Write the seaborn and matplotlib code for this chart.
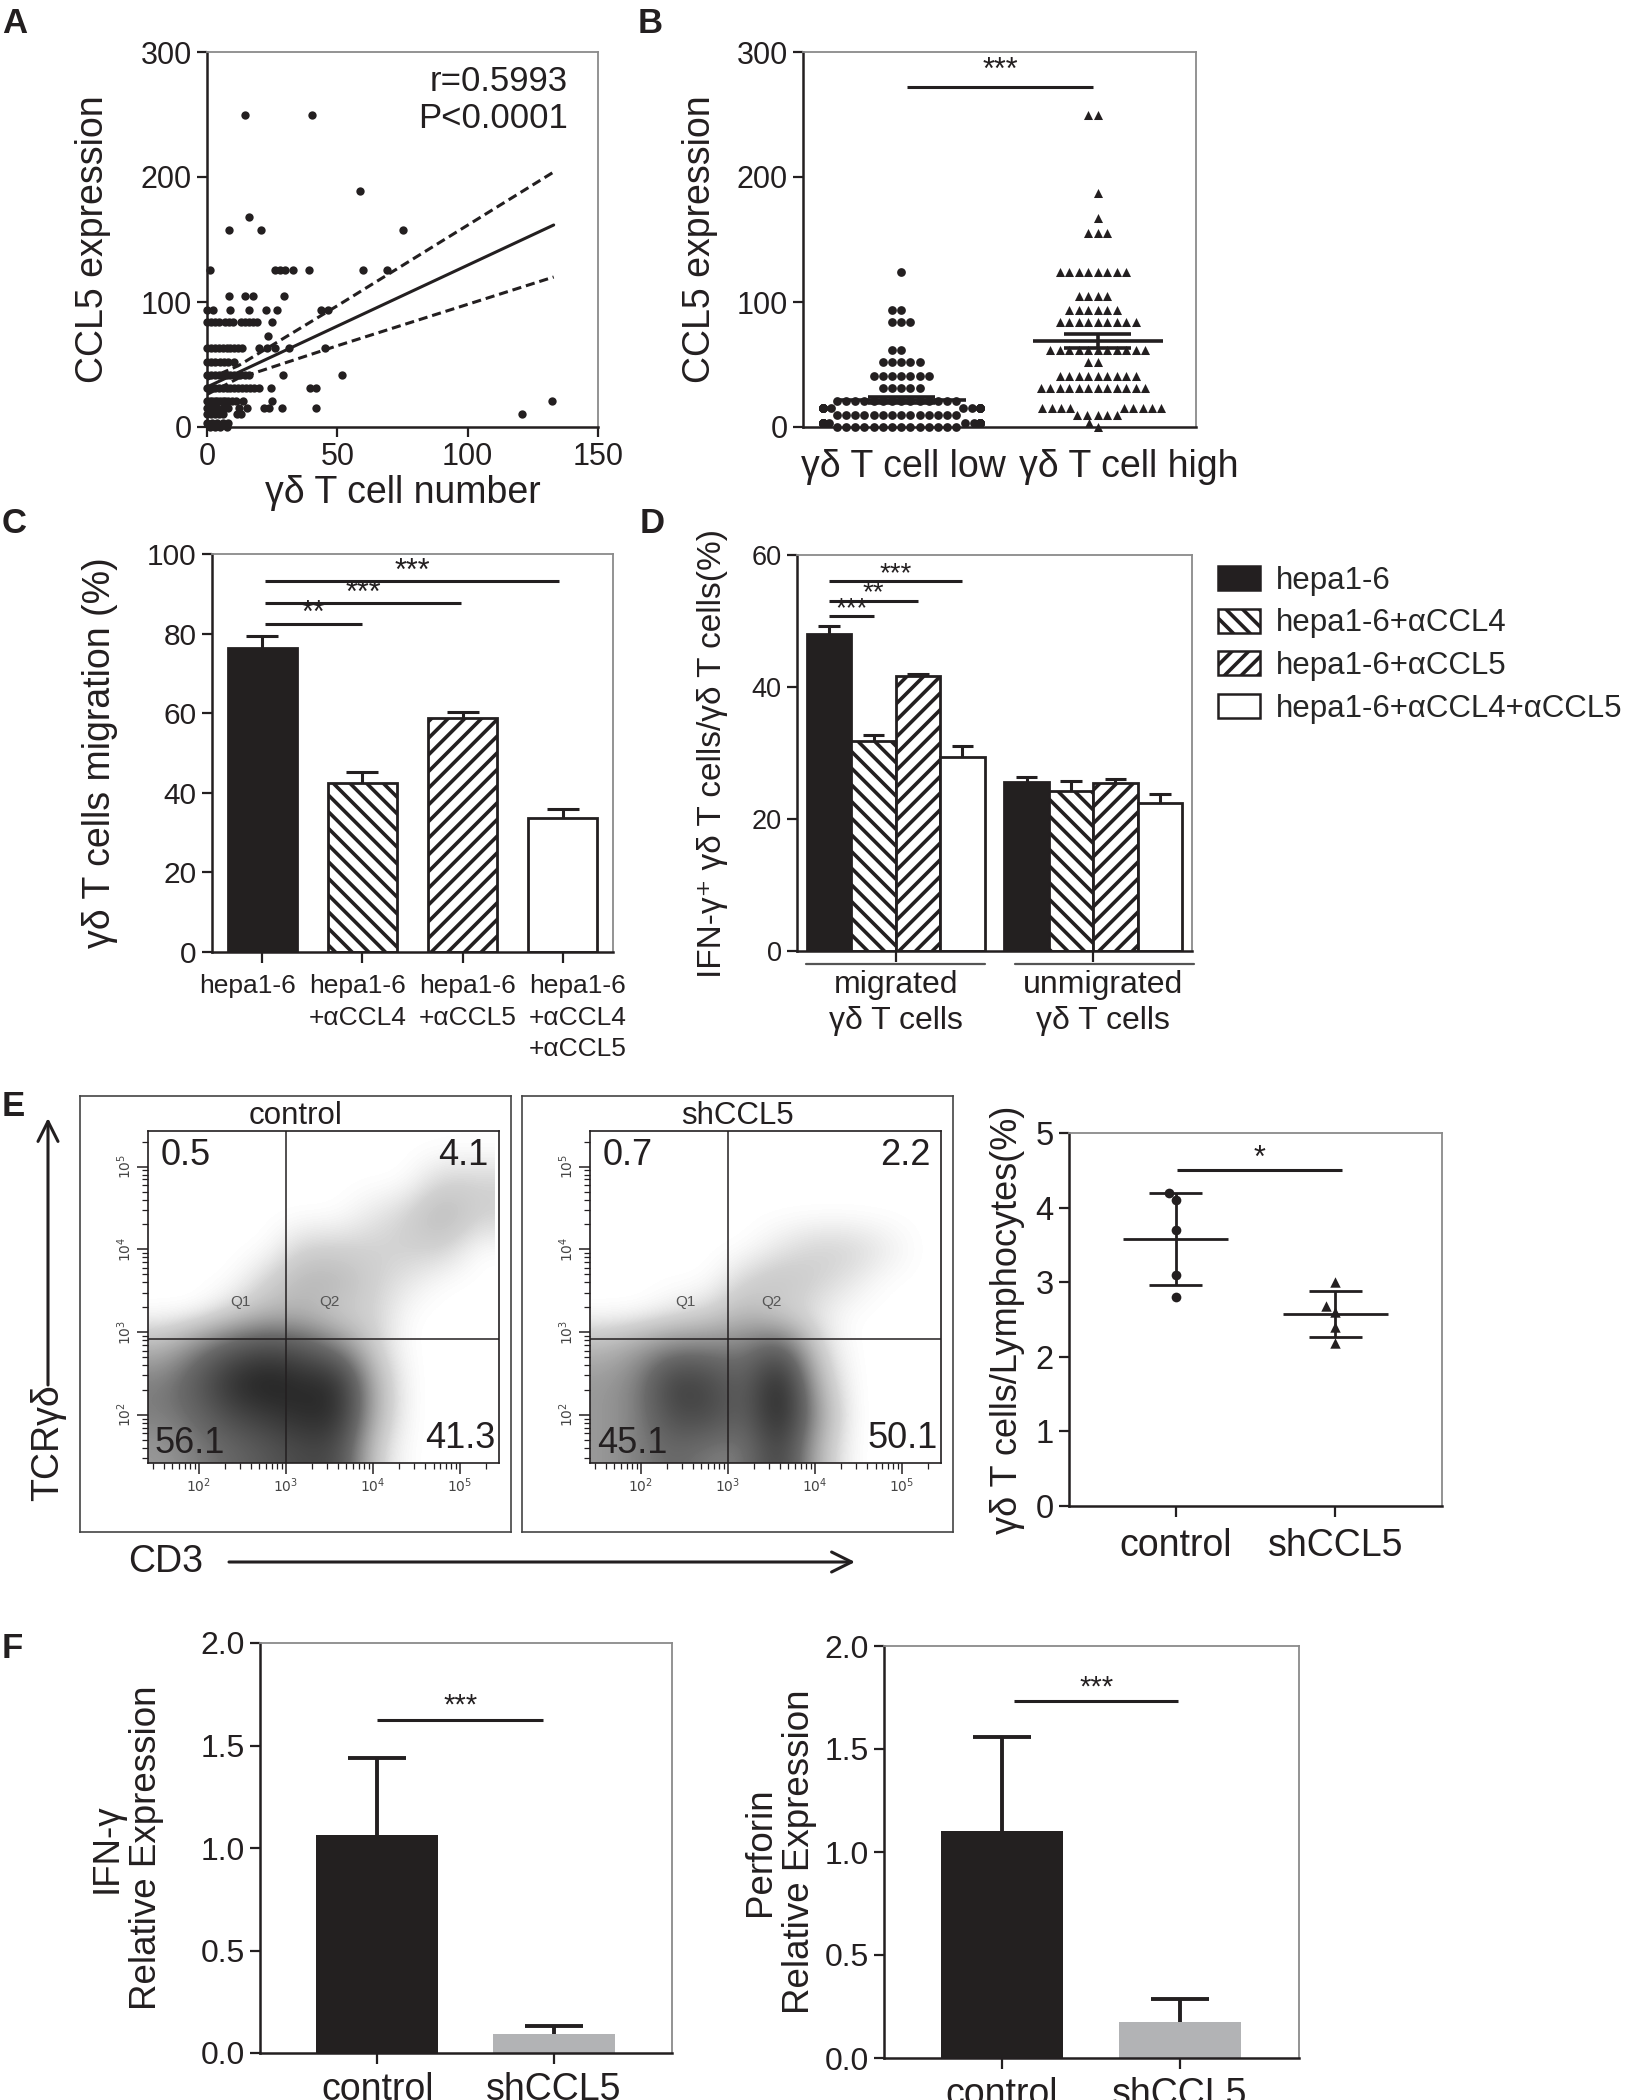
import numpy as np
import pandas as pd
import matplotlib
matplotlib.use("Agg")
import matplotlib.pyplot as plt
import matplotlib.patches as mpatches
from matplotlib.colors import LinearSegmentedColormap
import seaborn as sns

# ---------------- data ----------------

# A: gamma-delta T cell number vs CCL5 expression (one entry per sample)
a_row_ccl5 = [250, 189, 168, 158, 126, 105, 94, 84, 73, 63, 52, 42, 31, 21, 15.5, 10.7, 3, 0]
a_row_sizes = [2, 1, 1, 3, 8, 4, 8, 13, 1, 15, 7, 13, 17, 14, 11, 8, 5, 4]
a_cells = [14.5, 40.4,
           58.6,
           16,
           8.4, 20.9, 75.3,
           1, 26, 28, 30, 33, 39, 60, 69,
           8.4, 14.5, 17.8, 29.7,
           0, 2.3, 8.8, 16, 22.5, 27, 43.9, 46.4,
           0, 1.5, 3, 4.5, 7, 8.5, 10, 13, 14.5, 16, 17.5, 19, 25,
           23.3,
           0, 1.5, 3, 4.5, 6, 7.5, 9, 10.5, 12, 13.5, 20, 23, 26, 31.5, 45.4,
           0, 1.5, 3, 5, 6.5, 8, 10.5,
           0, 1.5, 3, 4.5, 6, 7.5, 9, 10.5, 12.5, 14.5, 16, 29, 51.8,
           0, 1.5, 3, 4.5, 6, 7.5, 9, 10.5, 12, 13.5, 15, 16.5, 18, 20, 24.4, 39.6, 41.9,
           0, 1, 2, 3, 4, 5, 6, 7, 8, 9.5, 11, 13.7, 24.8, 132.5,
           0, 2, 4, 6, 8, 12.2, 15.2, 22, 23.6, 28.9, 41.9,
           0, 1.5, 3, 4.5, 6, 11.4, 12.9, 121,
           0, 2, 4, 6, 8,
           1, 3, 5, 7.5]
a_ccl5 = np.repeat(a_row_ccl5, a_row_sizes)
fit_x = [0, 133]
fit_y = [32, 161.6]
ci_x = [0, 12, 50, 133]
ci_upper = [38, 49, 97, 204]
ci_lower = [26, 39, 65, 120]

# B: CCL5 expression, gamma-delta T cell low / high groups
b_groups = ["γδ T cell low", "γδ T cell high"]
low_levels = [124, 94, 84, 62, 52, 41, 31, 21, 15, 10, 3, 0]
low_counts = [1, 2, 3, 2, 5, 7, 5, 14, 14, 14, 16, 14]
high_levels = [250, 187, 167, 155, 124, 105, 94, 84, 62, 52, 41, 31, 15, 10, 3, 0]
high_counts = [2, 1, 1, 3, 8, 4, 6, 9, 11, 2, 9, 12, 9, 5, 1, 1]

# C: migration (%)
c_labels = ["hepa1-6", "hepa1-6\n+αCCL4", "hepa1-6\n+αCCL5", "hepa1-6\n+αCCL4\n+αCCL5"]
c_mean = [76.5, 42.5, 58.8, 33.7]
c_err = [2.8, 2.8, 1.5, 2.3]

# D: IFN-g+ gamma-delta T cells (%)
d_groups = ["migrated\nγδ T cells", "unmigrated\nγδ T cells"]
d_treat = ["hepa1-6", "hepa1-6+αCCL4", "hepa1-6+αCCL5", "hepa1-6+αCCL4+αCCL5"]
d_mean = [48.0, 31.8, 41.7, 29.4, 25.6, 24.2, 25.5, 22.5]
d_err = [1.2, 0.9, 0.3, 1.6, 0.7, 1.6, 0.6, 1.3]

# E: flow cytometry (CD3 vs TCRgd), coarse event density on 0.4-decade bins, rows bottom->top
flow_ctrl = [[3, 4, 5, 6, 7, 7, 1, 0, 0, 0],
             [4, 5, 7, 8, 9, 9, 2, 0, 0, 0],
             [4, 6, 9, 10, 9, 9, 2, 0, 0, 0],
             [2, 4, 6, 7, 6, 4, 1, 0, 0, 0],
             [0, 0, 1, 2, 2, 1, 1, 0, 0, 0],
             [0, 0, 0, 1, 2, 2, 1, 0.5, 0, 0],
             [0, 0, 0, 0, 1, 1, 1, 1, 1, 0],
             [0, 0, 0, 0, 0, 0, 0.5, 1, 2, 1],
             [0, 0, 0, 0, 0, 0, 0, 0, 1, 1],
             [0, 0, 0, 0, 0, 0, 0, 0, 0, 0]]
flow_sh = [[3, 4, 5, 4, 4, 8, 2, 0, 0, 0],
           [3, 4, 7, 7, 5, 10, 3, 0, 0, 0],
           [3, 4, 8, 7, 5, 10, 2, 0, 0, 0],
           [2, 3, 4, 4, 4, 6, 1, 0, 0, 0],
           [0, 0, 0.5, 1, 2, 1, 0.5, 0, 0, 0],
           [0, 0, 0, 0, 1, 1.5, 1, 0.5, 0, 0],
           [0, 0, 0, 0, 0, 0.5, 1, 1, 0.5, 0],
           [0, 0, 0, 0, 0, 0, 0, 0, 0, 0],
           [0, 0, 0, 0, 0, 0, 0, 0, 0, 0],
           [0, 0, 0, 0, 0, 0, 0, 0, 0, 0]]
quad_ctrl = ["0.5", "4.1", "56.1", "41.3"]
quad_sh = ["0.7", "2.2", "45.1", "50.1"]

# E right: gamma-delta T cells / lymphocytes (%)
e_groups = ["control", "shCCL5"]
e_ctrl = [4.2, 4.1, 3.7, 3.1, 2.8]
e_sh = [3.0, 2.68, 2.6, 2.4, 2.18]

# F: relative expression
f_groups = ["control", "shCCL5"]
f_ifng = [1.065, 0.094]
f_ifng_err = [0.375, 0.036]
f_perf = [1.10, 0.175]
f_perf_err = [0.458, 0.11]

# ---------------- style ----------------
DARK = "#231f20"
FRAME = "#8a8a8a"
GREYBAR = "#b2b3b5"

sns.set_theme(style="ticks")
plt.rcParams["font.family"] = ["Liberation Sans", "DejaVu Sans"]
plt.rcParams["hatch.linewidth"] = 2.6
plt.rcParams["hatch.color"] = DARK

W, H = 1633, 2100
fig = plt.figure(figsize=(W / 100, H / 100), dpi=100)


def add_ax(l, t, r, b):
    return fig.add_axes([l / W, 1 - b / H, (r - l) / W, (b - t) / H])


def style_frame(ax, labelsize):
    for side in ("left", "bottom"):
        ax.spines[side].set_color(DARK)
        ax.spines[side].set_linewidth(1.8)
    for side in ("top", "right"):
        ax.spines[side].set_visible(True)
        ax.spines[side].set_color(FRAME)
        ax.spines[side].set_linewidth(1.3)
    ax.tick_params(direction="out", length=7, width=1.6, color=DARK,
                   labelsize=labelsize, labelcolor=DARK, pad=4)


def ylabel(ax, text, size, xfrac, **kw):
    ax.set_ylabel(text, fontsize=size, color=DARK, va="center", **kw)
    ax.yaxis.set_label_coords(xfrac, 0.5)


def letter(x, y, s):
    fig.text(x / W, 1 - y / H, s, fontsize=25, fontweight="bold", va="top", color=DARK)


def sig(ax, x0, x1, y, stars, size, dy):
    ax.plot([x0, x1], [y, y], color=DARK, lw=2.2, solid_capstyle="butt")
    ax.text((x0 + x1) / 2, y + dy, stars, ha="center", va="bottom", fontsize=size, color=DARK)


def upper_err(ax, xs, tops, errs, half, lw):
    # GraphPad style: only the upper whisker with its cap
    for x, t, e in zip(xs, tops, errs):
        ax.plot([x, x], [t, t + e], color=DARK, lw=lw, zorder=1, solid_capstyle="butt")
        ax.plot([x - half, x + half], [t + e, t + e], color=DARK, lw=lw, zorder=1,
                solid_capstyle="butt")


# ---------------- A ----------------
axA = add_ax(207, 52, 598, 427)
sns.scatterplot(x=a_cells, y=a_ccl5, color=DARK, s=36, linewidth=0, ax=axA,
                clip_on=False, zorder=3)
axA.plot(fit_x, fit_y, color=DARK, lw=2.2)
axA.plot(ci_x, ci_upper, color=DARK, lw=2.2, ls=(0, (3, 1.6)))
axA.plot(ci_x, ci_lower, color=DARK, lw=2.2, ls=(0, (3, 1.6)))
axA.set(xlim=(0, 150), ylim=(0, 300), xticks=[0, 50, 100, 150], yticks=[0, 100, 200, 300])
style_frame(axA, 22)
axA.set_xlabel("γδ T cell number", fontsize=27, color=DARK, va="center")
axA.xaxis.set_label_coords(0.5, -0.176)
ylabel(axA, "CCL5 expression", 27, -0.292)
axA.text(0.923, 0.965, "r=0.5993\nP<0.0001", transform=axA.transAxes, ha="right", va="top",
         fontsize=25, linespacing=1.15, color=DARK)
letter(2, 7, "A")

# ---------------- B ----------------
axB = add_ax(803, 52, 1196, 427)
low_vals = np.repeat(low_levels, low_counts)
high_vals = np.repeat(high_levels, high_counts)
b_df = pd.DataFrame({"group": [b_groups[0]] * len(low_vals) + [b_groups[1]] * len(high_vals),
                     "ccl5": np.concatenate([low_vals, high_vals])})
sns.swarmplot(data=b_df[b_df.group == b_groups[0]], x="group", y="ccl5", order=b_groups,
              color=DARK, size=6.3, marker="o", ax=axB, clip_on=False)
sns.swarmplot(data=b_df[b_df.group == b_groups[1]], x="group", y="ccl5", order=b_groups,
              color=DARK, size=6.5, marker="^", ax=axB, clip_on=False)
b_stats = b_df.groupby("group")["ccl5"].agg(["mean", "sem"]).reindex(b_groups)
for i, (m, se) in enumerate(zip(b_stats["mean"], b_stats["sem"])):
    axB.hlines(m, i - 0.33, i + 0.33, color=DARK, lw=2.6, zorder=4)
    axB.hlines([m - se, m + se], i - 0.17, i + 0.17, color=DARK, lw=2.6, zorder=4)
    axB.vlines(i, m - se, m + se, color=DARK, lw=2.6, zorder=4)
axB.set(xlim=(-0.5, 1.5), ylim=(0, 300), yticks=[0, 100, 200, 300], xlabel="")
style_frame(axB, 22)
axB.tick_params(axis="x", length=0, labelbottom=False)
for xpos, lab in zip([0.01, 1.16], b_groups):
    axB.text(xpos, -0.107, lab, transform=axB.get_xaxis_transform(), ha="center", va="center",
             fontsize=27, color=DARK)
ylabel(axB, "CCL5 expression", 27, -0.262)
sig(axB, 0.03, 0.976, 272, "***", 22, 1)
letter(638, 7, "B")

# ---------------- C ----------------
c_colors = [DARK, "white", "white", "white"]
c_hatches = ["", "\\\\", "//", ""]
axC = add_ax(212, 554, 613, 952)
c_df = pd.DataFrame({"cond": c_labels, "pct": c_mean})
sns.barplot(data=c_df, x="cond", y="pct", hue="cond", palette=c_colors, edgecolor=DARK,
            linewidth=2.0, width=0.69, ax=axC, legend=False)
for patch, h in zip(axC.patches, c_hatches):
    patch.set_hatch(h)
upper_err(axC, range(len(c_mean)), c_mean, c_err, 0.16, 2.2)
axC.set(xlim=(-0.5, 3.5), ylim=(0, 100), yticks=[0, 20, 40, 60, 80, 100], xlabel="")
style_frame(axC, 21.5)
axC.tick_params(axis="x", length=8, labelbottom=False)
# category labels are spread slightly wider than the bars, as in the source figure
for i, lab in enumerate(c_labels):
    axC.text(1.5 + (i - 1.5) * 1.1, -0.056, lab, transform=axC.get_xaxis_transform(),
             ha="center", va="top", fontsize=19, linespacing=1.38, color=DARK)
ylabel(axC, "γδ T cells migration (%)", 27, -0.279)
sig(axC, 0.03, 1.0, 82.4, "**", 22, -1.3)
sig(axC, 0.03, 1.98, 87.6, "***", 22, -1.3)
sig(axC, 0.03, 2.96, 93.1, "***", 22, -1.3)
letter(2, 507, "C")

# ---------------- D ----------------
axD = add_ax(797, 555, 1192, 951)
d_df = pd.DataFrame({"group": np.repeat(d_groups, len(d_treat)),
                     "treat": d_treat * len(d_groups), "pct": d_mean})
sns.barplot(data=d_df, x="group", y="pct", hue="treat", hue_order=d_treat, palette=c_colors,
            edgecolor=DARK, linewidth=2.0, width=0.9, gap=0, ax=axD, legend=False)
bar_x = {}
for k, cont in enumerate(axD.containers):
    for g, bar in enumerate(cont):
        bar.set_hatch(c_hatches[k])
        bar_x[(g, k)] = bar.get_x() + bar.get_width() / 2
d_x = [bar_x[(g, k)] for g in range(len(d_groups)) for k in range(len(d_treat))]
upper_err(axD, d_x, d_mean, d_err, 0.055, 2.2)
axD.set(xlim=(-0.5, 1.5), ylim=(0, 60), yticks=[0, 20, 40, 60], xlabel="")
style_frame(axD, 19.5)
axD.tick_params(axis="x", length=8, labelbottom=False)
for g, (x0, x1) in enumerate([(-0.455, 0.452), (0.604, 1.51)]):
    axD.plot([x0, x1], [-1.96, -1.96], color="#555555", lw=1.6, clip_on=False)
for xpos, lab in zip([0.0, 1.05], d_groups):
    axD.text(xpos, -0.131, lab, transform=axD.get_xaxis_transform(), ha="center",
             va="center", fontsize=23, linespacing=1.25, color=DARK)
ylabel(axD, "IFN-γ⁺ γδ T cells/γδ T cells(%)", 24, -0.215)
sig(axD, bar_x[(0, 0)], bar_x[(0, 1)], 50.7, "***", 20, -0.9)
sig(axD, bar_x[(0, 0)], bar_x[(0, 2)], 53.1, "**", 20, -0.9)
sig(axD, bar_x[(0, 0)], bar_x[(0, 3)], 56.0, "***", 20, -0.9)
d_handles = [mpatches.Patch(facecolor=c, edgecolor=DARK, hatch=h, linewidth=1.8, label=l)
             for c, h, l in zip(c_colors, c_hatches, d_treat)]
fig.legend(handles=d_handles, loc="upper left", bbox_to_anchor=(1218 / W, 1 - 566 / H),
           frameon=False, fontsize=22.5, handlelength=1.35, handleheight=0.8,
           handletextpad=0.5, labelspacing=0.4, borderaxespad=0, borderpad=0)
letter(640, 507, "D")

# ---------------- E: flow plots ----------------
flow_cmap = LinearSegmentedColormap.from_list(
    "flow", [(0, "#ffffff"), (0.09, "#d2d2d2"), (0.45, "#6a6a6a"), (1, "#141414")])
dec_major = [2, 3, 4, 5]
dec_minor = [np.log10(m * 10.0 ** d) for d in range(1, 6) for m in range(2, 10)]


def flow_panel(box, inner, title, density, quads, q1x, q2x):
    outer = add_ax(*box)
    outer.set_xticks([])
    outer.set_yticks([])
    for sp in outer.spines.values():
        sp.set_visible(True)
        sp.set_color("#444444")
        sp.set_linewidth(1.2)
    outer.text(0.5, 0.954, title, transform=outer.transAxes, ha="center", va="center",
               fontsize=22.5, color=DARK)
    ax = add_ax(*inner)
    ax.imshow(np.array(density), origin="lower", extent=(1.4, 5.4, 1.4, 5.4), cmap=flow_cmap,
              vmin=0, vmax=10.5, interpolation="bicubic", aspect="auto")
    ax.axvline(3.0, color=DARK, lw=1.1)
    ax.axhline(2.92, color=DARK, lw=1.1)
    ax.set(xlim=(1.42, 5.45), ylim=(1.42, 5.43))
    for sp in ax.spines.values():
        sp.set_visible(True)
        sp.set_color(DARK)
        sp.set_linewidth(1.2)
    ax.set_xticks(dec_major)
    ax.set_yticks(dec_major)
    ax.set_xticks([v for v in dec_minor if 1.42 < v < 5.45], minor=True)
    ax.set_yticks([v for v in dec_minor if 1.42 < v < 5.43], minor=True)
    ax.set_xticklabels([f"$10^{{{d}}}$" for d in dec_major])
    ax.set_yticklabels([f"$10^{{{d}}}$" for d in dec_major], rotation=90, va="center")
    ax.tick_params(which="major", direction="out", length=8, width=1.1, color=DARK,
                   labelsize=10, labelcolor="#444444", pad=2)
    ax.tick_params(which="minor", direction="out", length=4, width=0.9, color=DARK)
    ax.text(1.56, 5.34, quads[0], ha="left", va="top", fontsize=26, color=DARK)
    ax.text(5.33, 5.34, quads[1], ha="right", va="top", fontsize=26, color=DARK)
    ax.text(1.5, 1.45, quads[2], ha="left", va="bottom", fontsize=26, color=DARK)
    ax.text(5.41, 1.5, quads[3], ha="right", va="bottom", fontsize=26, color=DARK)
    ax.text(q1x, 3.36, "Q1", ha="center", va="center", fontsize=11, color="#555555")
    ax.text(q2x, 3.36, "Q2", ha="center", va="center", fontsize=11, color="#555555")
    return ax


flow_panel((80, 1096, 511, 1532), (148, 1131, 499, 1463), "control", flow_ctrl, quad_ctrl, 2.48, 3.5)
flow_panel((522, 1096, 953, 1532), (590, 1131, 941, 1463), "shCCL5", flow_sh, quad_sh, 2.52, 3.5)

fig.text(48 / W, 1 - 1443 / H, "TCRγδ", rotation=90, ha="center", va="center", fontsize=27, color=DARK)
fig.text(166 / W, 1 - 1562 / H, "CD3", ha="center", va="center", fontsize=27, color=DARK)
arrow = dict(arrowstyle="->,head_length=0.6,head_width=0.3", color=DARK, lw=2.2,
             mutation_scale=24, shrinkA=0, shrinkB=0)
fig.add_artist(mpatches.FancyArrowPatch((48 / W, 1 - 1385 / H), (48 / W, 1 - 1118 / H),
                                        transform=fig.transFigure, **arrow))
fig.add_artist(mpatches.FancyArrowPatch((229 / W, 1 - 1562 / H), (855 / W, 1 - 1562 / H),
                                        transform=fig.transFigure, **arrow))
letter(2, 1090, "E")

# ---------------- E right ----------------
axE = add_ax(1069, 1133, 1442, 1506)
e_df = pd.DataFrame({"group": [e_groups[0]] * len(e_ctrl) + [e_groups[1]] * len(e_sh),
                     "pct": e_ctrl + e_sh})
sns.swarmplot(data=e_df[e_df.group == e_groups[0]], x="group", y="pct", order=e_groups,
              color=DARK, size=7, marker="o", ax=axE)
sns.swarmplot(data=e_df[e_df.group == e_groups[1]], x="group", y="pct", order=e_groups,
              color=DARK, size=7.5, marker="^", ax=axE)
e_stats = e_df.groupby("group")["pct"].agg(["mean", "std"]).reindex(e_groups)
for i, (m, sd) in enumerate(zip(e_stats["mean"], e_stats["std"])):
    axE.hlines(m, i - 0.33, i + 0.33, color=DARK, lw=2.0, zorder=4)
    axE.hlines([m - sd, m + sd], i - 0.165, i + 0.165, color=DARK, lw=2.0, zorder=4)
    axE.vlines(i, m - sd, m + sd, color=DARK, lw=2.0, zorder=4)
axE.set(xlim=(-0.67, 1.67), ylim=(0, 5), yticks=[0, 1, 2, 3, 4, 5], xlabel="")
style_frame(axE, 23.5)
axE.tick_params(axis="x", labelsize=27, length=8, pad=8)
ylabel(axE, "γδ T cells/Lymphocytes(%)", 26, -0.166)
sig(axE, 0.01, 1.04, 4.5, "*", 22, -0.05)

# ---------------- F ----------------
f_colors = [DARK, GREYBAR]


def expr_panel(box, vals, errs, label, xfrac, ybar):
    ax = add_ax(*box)
    df = pd.DataFrame({"group": f_groups, "expr": vals})
    sns.barplot(data=df, x="group", y="expr", hue="group", palette=f_colors, width=0.69,
                linewidth=0, ax=ax, legend=False)
    upper_err(ax, range(len(vals)), vals, errs, 0.165, 2.8)
    ax.set(xlim=(-0.663, 1.668), ylim=(0, 2.0), yticks=[0, 0.5, 1.0, 1.5, 2.0], xlabel="")
    ax.set_yticklabels([f"{v:.1f}" for v in [0, 0.5, 1.0, 1.5, 2.0]])
    style_frame(ax, 23)
    ax.tick_params(axis="x", labelsize=27, length=8, pad=6)
    ylabel(ax, label, 26.5, xfrac, linespacing=1.15)
    sig(ax, ybar[0], ybar[1], ybar[2], "***", 21, 0.0)
    return ax


expr_panel((260, 1643, 672, 2053), f_ifng, f_ifng_err, "IFN-γ\nRelative Expression", -0.323,
           (0.0, 0.94, 1.626))
expr_panel((884, 1646, 1299, 2058), f_perf, f_perf_err, "Perforin\nRelative Expression", -0.251,
           (0.07, 0.99, 1.731))
letter(2, 1632, "F")

fig.savefig("out.png", dpi=100, facecolor="white")
